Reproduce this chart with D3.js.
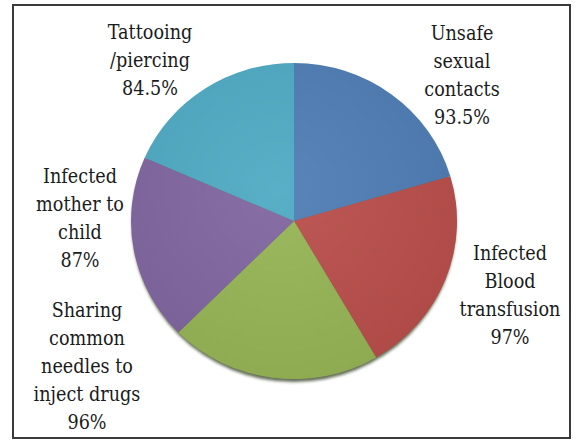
<!DOCTYPE html>
<html>
<head>
<meta charset="utf-8">
<style>
  body { margin: 0; background: white; }
  svg { display: block; }
</style>
</head>
<body>
<script src="https://cdnjs.cloudflare.com/ajax/libs/d3/7.8.5/d3.min.js"></script>
<script>
// chart data
var categories = ["Unsafe sexual contacts", "Infected Blood transfusion", "Sharing common needles to inject drugs", "Infected mother to child", "Tattooing /piercing"];
var values = [93.5, 97, 96, 87, 84.5];
var labelLines = [
  ["Unsafe", "sexual", "contacts", "93.5%"],
  ["Infected", "Blood", "transfusion", "97%"],
  ["Sharing", "common", "needles to", "inject drugs", "96%"],
  ["Infected", "mother to", "child", "87%"],
  ["Tattooing", "/piercing", "84.5%"]
];
var colors = ["#4f7db5", "#b94e4b", "#97b556", "#8066a0", "#4eaac3"];

var w = 576, h = 443;
var cx = 294, cy = 221, rx = 163, ry = 158;

var svg = d3.select("body").append("svg")
  .attr("width", w)
  .attr("height", h);

svg.append("rect")
  .attr("x", 13).attr("y", 5)
  .attr("width", 557).attr("height", 433)
  .attr("fill", "white")
  .attr("stroke", "#3a3a3a")
  .attr("stroke-width", 2);

var defs = svg.append("defs");
var blur = defs.append("filter").attr("id", "shd").attr("x", "-10%").attr("y", "-10%").attr("width", "120%").attr("height", "120%");
blur.append("feGaussianBlur").attr("stdDeviation", 1.5);

var shade = defs.append("radialGradient").attr("id", "shade")
  .attr("cx", "45%").attr("cy", "40%").attr("r", "65%");
shade.append("stop").attr("offset", "0%").attr("stop-color", "#fff").attr("stop-opacity", 0.06);
shade.append("stop").attr("offset", "100%").attr("stop-color", "#000").attr("stop-opacity", 0.06);

var pie = d3.pie().sort(null).value(function(d) { return d; });
var arcs = pie(values);
var arc = d3.arc().innerRadius(0).outerRadius(1);

// bottom shadow rim
svg.append("ellipse")
  .attr("cx", cx).attr("cy", cy + 3)
  .attr("rx", rx - 1).attr("ry", ry)
  .attr("fill", "#2f3a1c")
  .attr("opacity", 0.75)
  .attr("filter", "url(#shd)");

var g = svg.append("g")
  .attr("transform", "translate(" + cx + "," + cy + ") scale(" + rx + "," + ry + ")");

g.selectAll("path.slice")
  .data(arcs)
  .enter()
  .append("path")
  .attr("class", "slice")
  .attr("d", arc)
  .attr("fill", function(d, i) { return colors[i]; });

g.append("circle").attr("r", 1).attr("fill", "url(#shade)");

// label anchors (centre x, first baseline)
var labelPos = [[462, 40], [510, 260], [87, 317], [80, 183], [150, 39]];
var lineH = 28;

labelLines.forEach(function(lines, i) {
  var t = svg.append("text")
    .attr("font-family", "'DejaVu Serif', serif")
    .attr("font-size", 21)
    .attr("fill", "#1b1b1b")
    .attr("text-anchor", "middle")
    .attr("transform", "translate(" + labelPos[i][0] + ",0) scale(0.84,1)");
  lines.forEach(function(s, j) {
    t.append("tspan")
      .attr("x", 0)
      .attr("y", labelPos[i][1] + j * lineH)
      .text(s);
  });
});
</script>
</body>
</html>
